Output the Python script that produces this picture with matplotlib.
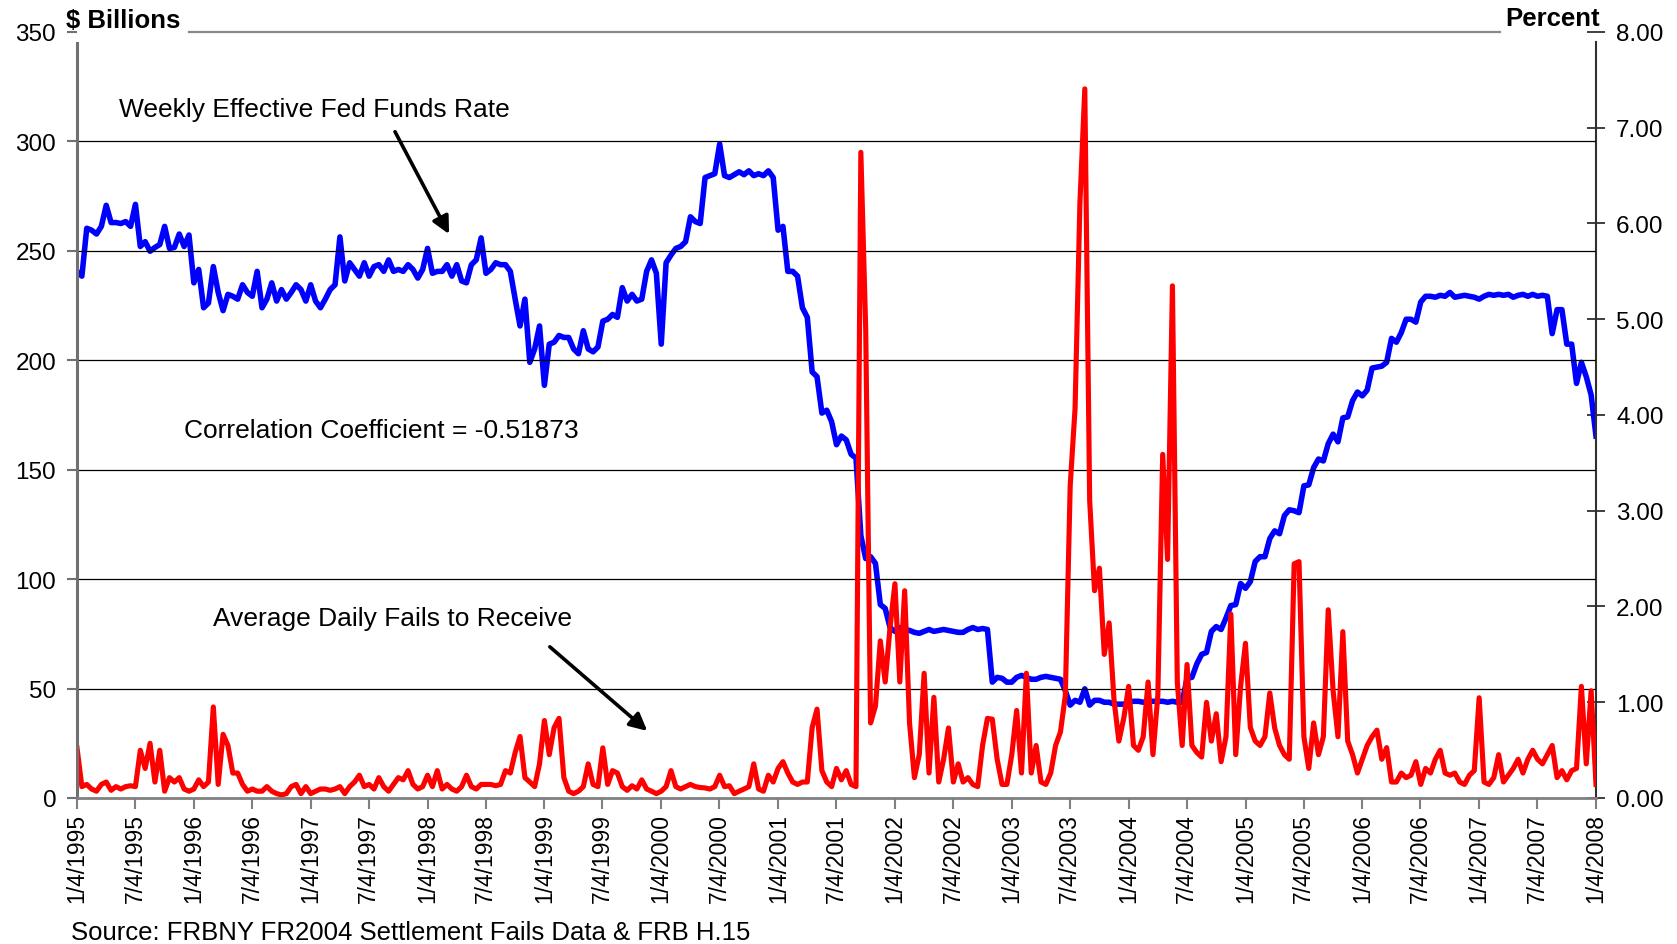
import pandas as pd
import matplotlib
matplotlib.use('Agg')
import matplotlib.pyplot as plt
from matplotlib.lines import Line2D

# semi-monthly readings, 1/4/1995 .. 1/4/2008 (24 per year + final point)
fed_funds_rate = [
    5.50, 5.45, 5.95, 5.93, 5.89, 5.97, 6.19, 6.01, 6.01, 6.00, 6.02, 5.97, 6.20, 5.76, 5.81, 5.71, 5.75, 5.78, 5.97, 5.74, 5.75, 5.89, 5.76, 5.88,  # 1995
    5.38, 5.52, 5.12, 5.17, 5.55, 5.28, 5.09, 5.26, 5.24, 5.21, 5.36, 5.28, 5.24, 5.50, 5.12, 5.21, 5.38, 5.19, 5.31, 5.21, 5.28, 5.36, 5.31, 5.19,  # 1996
    5.36, 5.19, 5.12, 5.21, 5.31, 5.36, 5.86, 5.40, 5.59, 5.52, 5.45, 5.59, 5.45, 5.55, 5.57, 5.50, 5.62, 5.50, 5.52, 5.50, 5.57, 5.52, 5.43, 5.52,  # 1997
    5.74, 5.48, 5.50, 5.50, 5.57, 5.45, 5.57, 5.40, 5.38, 5.57, 5.62, 5.85, 5.48, 5.52, 5.59, 5.57, 5.57, 5.50, 5.21, 4.93, 5.21, 4.55, 4.69, 4.93,  # 1998
    4.31, 4.74, 4.76, 4.83, 4.81, 4.81, 4.69, 4.64, 4.88, 4.69, 4.66, 4.71, 4.98, 5.00, 5.05, 5.02, 5.33, 5.19, 5.26, 5.19, 5.21, 5.50, 5.62, 5.48,  # 1999
    4.74, 5.59, 5.67, 5.74, 5.76, 5.81, 6.07, 6.02, 6.00, 6.48, 6.50, 6.52, 6.83, 6.50, 6.48, 6.51, 6.54, 6.51, 6.55, 6.50, 6.52, 6.50, 6.55, 6.48,  # 2000
    5.93, 5.97, 5.50, 5.50, 5.45, 5.12, 5.02, 4.45, 4.40, 4.02, 4.05, 3.93, 3.69, 3.78, 3.74, 3.59, 3.55, 2.74, 2.50, 2.52, 2.45, 2.02, 1.98, 1.78,  # 2001
    1.74, 1.78, 1.76, 1.75, 1.73, 1.72, 1.74, 1.76, 1.74, 1.75, 1.76, 1.75, 1.74, 1.73, 1.73, 1.76, 1.78, 1.76, 1.77, 1.76, 1.21, 1.26, 1.25, 1.21,  # 2002
    1.21, 1.26, 1.28, 1.26, 1.24, 1.24, 1.26, 1.27, 1.26, 1.25, 1.24, 1.12, 0.97, 1.02, 1.00, 1.14, 0.97, 1.02, 1.02, 1.00, 1.00, 0.98, 0.98, 0.98,  # 2003
    1.00, 1.01, 1.01, 1.00, 1.01, 1.01, 1.01, 1.01, 1.00, 1.01, 1.00, 1.00, 1.25, 1.26, 1.40, 1.50, 1.52, 1.74, 1.79, 1.76, 1.88, 2.01, 2.02, 2.24,  # 2004
    2.19, 2.26, 2.47, 2.52, 2.52, 2.71, 2.79, 2.76, 2.95, 3.01, 3.00, 2.98, 3.26, 3.27, 3.45, 3.54, 3.52, 3.70, 3.80, 3.72, 3.97, 3.98, 4.15, 4.24,  # 2005
    4.20, 4.26, 4.49, 4.50, 4.51, 4.55, 4.80, 4.76, 4.86, 5.00, 5.00, 4.97, 5.18, 5.24, 5.24, 5.23, 5.25, 5.24, 5.28, 5.23, 5.24, 5.25, 5.24, 5.23,  # 2006
    5.21, 5.24, 5.26, 5.25, 5.26, 5.25, 5.26, 5.23, 5.25, 5.26, 5.24, 5.26, 5.24, 5.25, 5.24, 4.85, 5.10, 5.10, 4.74, 4.74, 4.33, 4.55, 4.40, 4.21,  # 2007
    3.78,
]

fails_to_receive = [
    22.9, 5.2, 6.2, 4.1, 3.1, 6.2, 7.3, 3.5, 5.2, 4.1, 5.2, 5.6, 5.2, 21.8, 13.5, 25.0, 7.3, 21.8, 3.1, 9.3, 7.3, 9.3, 4.1, 3.1,  # 1995
    4.1, 8.3, 5.2, 7.3, 41.6, 6.2, 29.1, 24.0, 11.4, 11.4, 6.2, 3.1, 4.1, 3.1, 3.1, 5.2, 3.1, 2.0, 1.4, 2.0, 5.2, 6.2, 2.0, 5.2,  # 1996
    2.0, 3.1, 4.1, 4.1, 3.5, 4.1, 5.2, 2.0, 5.2, 7.3, 10.4, 5.2, 6.2, 4.1, 9.3, 5.2, 3.1, 6.2, 9.3, 8.3, 12.5, 6.2, 4.1, 5.2,  # 1997
    10.4, 5.2, 12.5, 4.1, 6.2, 4.1, 3.1, 5.2, 10.4, 5.2, 4.1, 6.2, 6.2, 6.2, 5.6, 6.2, 12.5, 11.4, 20.8, 28.1, 9.3, 7.3, 5.2, 15.6,  # 1998
    35.4, 19.8, 32.2, 36.4, 9.3, 3.1, 2.0, 3.1, 5.2, 15.6, 6.2, 5.2, 22.9, 6.2, 12.5, 11.4, 5.2, 3.5, 5.6, 4.1, 8.3, 4.1, 3.1, 2.0,  # 1999
    3.1, 5.2, 12.5, 5.2, 4.1, 5.2, 6.2, 5.2, 4.8, 4.6, 4.1, 5.2, 10.4, 5.2, 5.6, 2.0, 3.1, 4.1, 5.2, 15.6, 4.1, 3.1, 10.4, 7.3,  # 2000
    13.5, 16.6, 11.4, 7.3, 6.2, 7.3, 7.3, 32.2, 40.6, 12.5, 7.3, 5.2, 13.5, 8.3, 12.5, 6.2, 5.2, 295.0, 214.0, 34.3, 42.0, 71.8, 53.0, 78.0,  # 2001
    97.9, 53.0, 94.7, 34.3, 9.3, 19.8, 57.0, 11.4, 46.0, 7.3, 17.7, 32.0, 7.3, 15.6, 7.3, 9.3, 6.2, 5.2, 24.0, 36.4, 36.0, 17.7, 6.2, 6.2,  # 2002
    19.8, 40.0, 11.4, 57.0, 11.4, 24.0, 7.3, 6.2, 11.4, 24.0, 30.2, 46.8, 142.7, 178.0, 272.0, 324.0, 136.0, 94.7, 105.0, 65.6, 80.0, 44.8, 26.0, 36.4,  # 2003
    51.0, 24.0, 21.8, 28.0, 53.0, 19.8, 46.8, 157.0, 109.0, 234.0, 53.0, 24.0, 61.0, 24.0, 20.8, 18.7, 43.7, 26.0, 38.5, 16.6, 28.0, 84.0, 19.8, 51.0,  # 2004
    70.7, 32.2, 26.0, 24.0, 28.0, 48.0, 32.0, 24.0, 19.8, 17.7, 107.0, 108.0, 28.0, 13.5, 34.3, 19.8, 28.0, 86.0, 49.0, 28.0, 76.0, 26.0, 19.8, 11.4,  # 2005
    17.7, 24.0, 28.0, 31.0, 17.7, 23.0, 7.3, 7.3, 11.4, 9.3, 10.4, 16.6, 6.2, 13.5, 11.4, 17.7, 21.8, 11.4, 10.4, 11.4, 7.3, 6.2, 10.4, 12.5,  # 2006
    45.8, 7.3, 6.2, 9.3, 19.8, 7.3, 10.4, 13.5, 17.7, 11.4, 17.7, 21.8, 17.7, 15.6, 19.8, 24.0, 9.3, 12.5, 8.3, 12.5, 13.5, 51.0, 15.6, 49.0,  # 2007
    6.2,
]

tick_labels = []
for yr in range(1995, 2008):
    tick_labels += ['1/4/%d' % yr, '7/4/%d' % yr]
tick_labels.append('1/4/2008')

billions_ticks = [0, 50, 100, 150, 200, 250, 300, 350]
percent_ticks = [0, 1, 2, 3, 4, 5, 6, 7, 8]

dates = pd.date_range('1995-01-04', '2008-01-04', periods=len(fed_funds_rate))
tick_dates = pd.to_datetime(tick_labels, format='%m/%d/%Y')

plt.rcParams['font.family'] = ['Liberation Sans', 'DejaVu Sans']

fig = plt.figure(figsize=(16.77, 9.45), dpi=100)
ax = fig.add_axes([0.04592, 0.1545, 0.90578, 0.81058])
ax2 = ax.twinx()
# red on the left axis must be drawn above the blue line
ax.set_zorder(ax2.get_zorder() + 1)
ax.patch.set_visible(False)

for v in billions_ticks[1:-1]:
    ax.axhline(v, color='black', lw=0.9, zorder=0)

ax2.plot(dates, fed_funds_rate, color='#0000ff', lw=4.0, solid_joinstyle='round')
ax.plot(dates, fails_to_receive, color='#ff0000', lw=3.7, solid_joinstyle='round')

ax.set_xlim(tick_dates[0], tick_dates[-1])
ax.set_ylim(0, 350)
ax2.set_ylim(0, 8)

ax.set_yticks(billions_ticks)
ax.set_yticklabels([str(v) for v in billions_ticks])
ax2.set_yticks(percent_ticks)
ax2.set_yticklabels(['%.2f' % v for v in percent_ticks])
ax.set_xticks(tick_dates)
ax.set_xticklabels(tick_labels, rotation=90)

ax.tick_params(axis='y', direction='out', length=7, width=1.5, color='#707070',
               labelsize=17.5, pad=8)
ax.tick_params(axis='x', direction='out', length=8, width=1.5, color='#808080',
               labelsize=16.5, pad=3)
ax2.tick_params(axis='y', direction='inout', length=13, width=1.3, color='#303030',
                labelsize=17.5, pad=8)

for s in ['top', 'right']:
    ax.spines[s].set_visible(False)
for s in ['top', 'left', 'bottom']:
    ax2.spines[s].set_visible(False)
ax.spines['left'].set_color('#707070')
ax.spines['left'].set_linewidth(2.2)
ax.spines['left'].set_bounds(0, 345)
ax.spines['bottom'].set_color('#808080')
ax.spines['bottom'].set_linewidth(2)
ax2.spines['right'].set_color('#303030')
ax2.spines['right'].set_linewidth(1.5)
ax2.spines['right'].set_bounds(0, 7.9)

# top rule between the two unit labels
ax.add_line(Line2D([0.0739, 0.9366], [1.0, 1.0], transform=ax.transAxes,
                   color='#888888', lw=1.6, clip_on=False))
ax.text(-0.007, 1.0154, '$ Billions', transform=ax.transAxes, ha='left', va='center',
        fontsize=18.5, fontweight='bold')
ax.text(1.0028, 1.0182, 'Percent', transform=ax.transAxes, ha='right', va='center',
        fontsize=18.5, fontweight='bold')

ax.text(0.0275, 0.8994, 'Weekly Effective Fed Funds Rate', transform=ax.transAxes,
        ha='left', va='center', fontsize=19)
ax.annotate('', xy=(0.2458, 0.733), xytext=(0.2085, 0.873), xycoords='axes fraction',
            arrowprops=dict(arrowstyle='-|>', color='black', lw=2.6, mutation_scale=26))

ax.text(0.0704, 0.4804, 'Correlation Coefficient = -0.51873', transform=ax.transAxes,
        ha='left', va='center', fontsize=19)

ax.text(0.0894, 0.2346, 'Average Daily Fails to Receive', transform=ax.transAxes,
        ha='left', va='center', fontsize=19)
ax.annotate('', xy=(0.3768, 0.0852), xytext=(0.3099, 0.1997), xycoords='axes fraction',
            arrowprops=dict(arrowstyle='-|>', color='black', lw=2.6, mutation_scale=26))

fig.text(0.0421, 0.0125, 'Source: FRBNY FR2004 Settlement Fails Data & FRB H.15',
         ha='left', va='center', fontsize=18.5)

fig.savefig('out.png', dpi=100)
